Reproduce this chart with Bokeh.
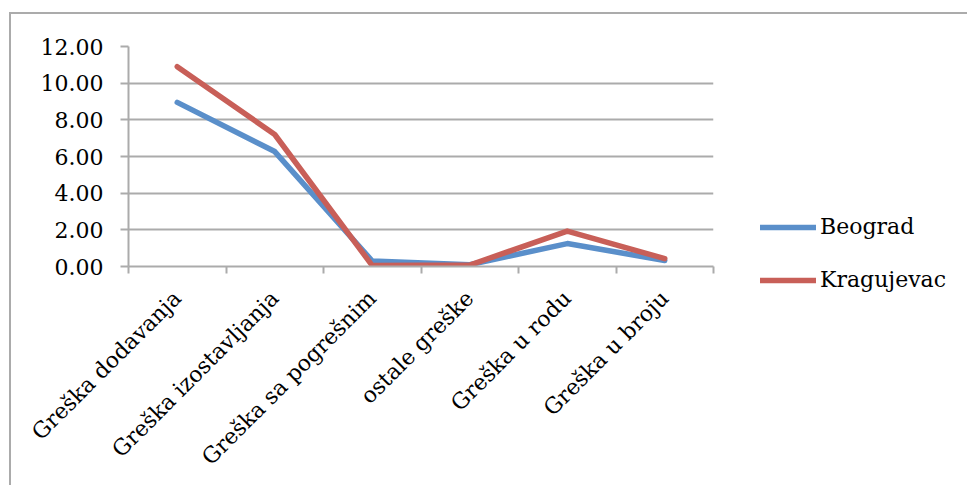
import math
from bokeh.plotting import figure
from bokeh.models import Range1d, FixedTicker, Legend, LegendItem, NumeralTickFormatter, ColumnDataSource
from bokeh.embed import file_html
from bokeh.resources import INLINE

categories = ["Greška dodavanja", "Greška izostavljanja", "Greška sa pogrešnim",
              "ostale greške", "Greška u rodu", "Greška u broju"]
beograd = [8.95, 6.27, 0.30, 0.10, 1.25, 0.33]
kragujevac = [10.90, 7.20, 0.05, 0.08, 1.93, 0.43]
y_ticks = [0, 2, 4, 6, 8, 10, 12]

xs = [i + 0.5 for i in range(len(categories))]
src = ColumnDataSource(dict(x=xs, b=beograd, k=kragujevac))

FONT = "DejaVu Serif"
GRID = "#ababab"
BLUE = "#5A8FCA"
RED = "#C85F58"

p = figure(frame_width=585, frame_height=220, output_backend="svg", toolbar_location=None,
           x_range=Range1d(0, len(categories)), y_range=Range1d(0, 12),
           min_border_left=117, min_border_right=0, min_border_top=32, min_border_bottom=219)
p.styles = {"margin-left": "9px", "margin-top": "12px",
            "border-left": "2px solid #ababab", "border-top": "2px solid #ababab"}
p.outline_line_color = None
p.background_fill_color = "white"

r1 = p.line("x", "b", source=src, line_color=BLUE, line_width=5.5, line_cap="round", line_join="round")
r2 = p.line("x", "k", source=src, line_color=RED, line_width=5.5, line_cap="round", line_join="round")

# X axis
p.xaxis.ticker = FixedTicker(ticks=xs, minor_ticks=list(range(len(categories) + 1)))
p.xaxis.major_label_overrides = {x: c for x, c in zip(xs, categories)}
p.xaxis.major_tick_out = 0
p.xaxis.major_tick_in = 0
p.xaxis.minor_tick_out = 7
p.xaxis.minor_tick_in = 0
p.xaxis.minor_tick_line_color = GRID
p.xaxis.minor_tick_line_width = 2
p.xaxis.axis_line_color = GRID
p.xaxis.axis_line_width = 2
p.xaxis.major_label_orientation = math.pi / 4
p.xaxis.major_label_standoff = 21
p.xaxis.major_label_text_font = FONT
p.xaxis.major_label_text_font_size = "22px"
p.xaxis.major_label_text_color = "black"

# Y axis
p.yaxis.ticker = FixedTicker(ticks=y_ticks)
p.yaxis.formatter = NumeralTickFormatter(format="0.00")
p.yaxis.major_tick_out = 8
p.yaxis.major_tick_in = 0
p.yaxis.minor_tick_line_color = None
p.yaxis.major_tick_line_color = GRID
p.yaxis.major_tick_line_width = 2
p.yaxis.axis_line_color = GRID
p.yaxis.axis_line_width = 2
p.yaxis.major_label_standoff = 17
p.yaxis.major_label_text_font = FONT
p.yaxis.major_label_text_font_size = "22px"
p.yaxis.major_label_text_color = "black"

p.xgrid.grid_line_color = None
p.ygrid.ticker = FixedTicker(ticks=y_ticks)
p.ygrid.grid_line_color = GRID
p.ygrid.grid_line_width = 2

legend = Legend(items=[LegendItem(label="Beograd", renderers=[r1]),
                       LegendItem(label="Kragujevac", renderers=[r2])],
                location=(47, -26), orientation="vertical",
                glyph_width=56, glyph_height=20, spacing=28, label_standoff=4,
                padding=0, margin=0, border_line_color=None, background_fill_alpha=0,
                label_text_font=FONT, label_text_font_size="22px", label_text_color="black")
p.add_layout(legend, "right")

open("out.html", "w").write(file_html(p, INLINE))
